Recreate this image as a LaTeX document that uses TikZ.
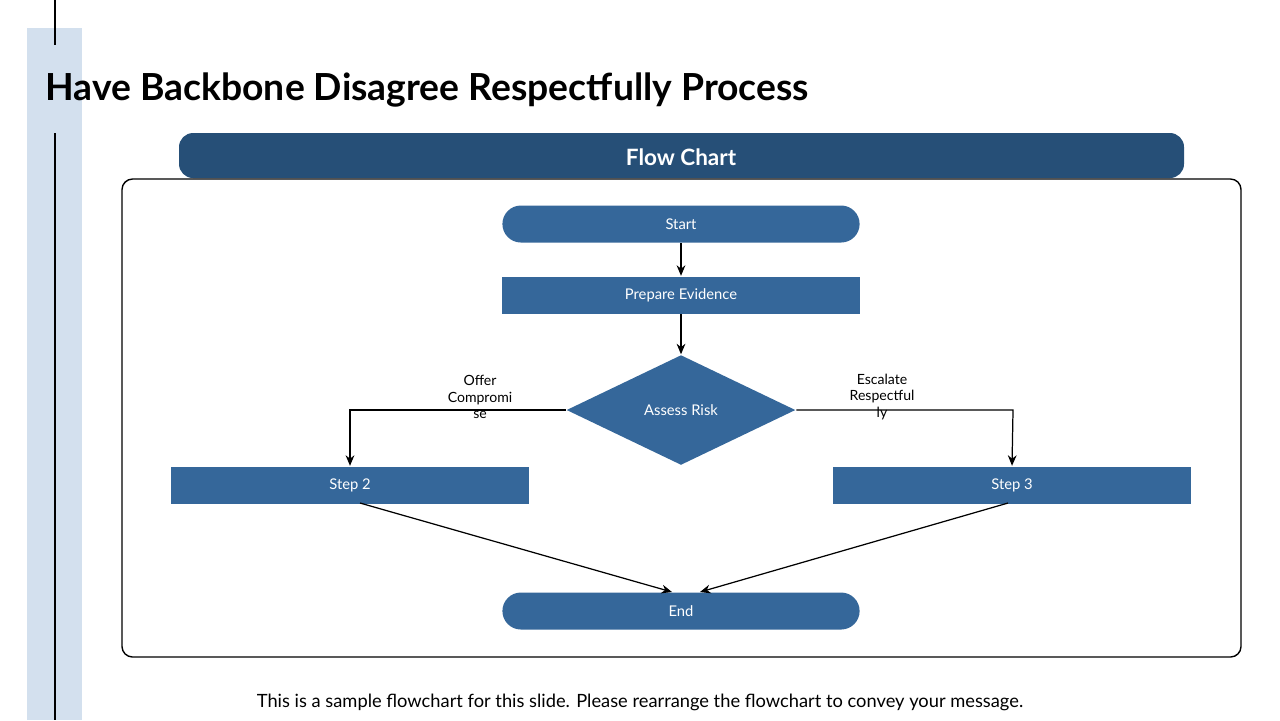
\documentclass[tikz,border=0pt]{standalone}
\usepackage{fontspec}
\setmainfont{Lato}
\usetikzlibrary{shapes.geometric,arrows.meta}
\definecolor{band}{HTML}{D3E0EE}
\definecolor{navy}{HTML}{264F77}
\definecolor{boxblue}{HTML}{35679A}
\tikzset{
  box/.style={fill=boxblue,text=white,minimum width=3.57cm,minimum height=0.37cm,inner sep=0pt,font=\fontsize{4.2}{5}\selectfont},
  pill/.style={box,rounded corners=0.185cm},
  flow/.style={-{Stealth[length=3pt,width=2.5pt]},line width=0.35pt},
  lbl/.style={align=center,font=\fontsize{4}{4.6}\selectfont}
}
\begin{document}
\begin{tikzpicture}[x=0.01cm,y=-0.01cm]
\useasboundingbox (0,0) rectangle (1280,720);
% side band and rule
\fill[band] (27,28) rectangle (82,720);
\draw[line width=0.6pt] (55,0) -- (55,45);
\draw[line width=0.6pt] (55,133) -- (55,720);
\node[anchor=west,font=\fontsize{10.6}{12}\selectfont\bfseries] (title) at (33,90) {Have Backbone Disagree Respectfully Process};
% header tab and frame
\fill[navy,rounded corners=4pt] (179,178) -- (179,133) -- (1184,133) -- (1184,178) -- cycle;
\node[text=white,font=\fontsize{6.4}{7}\selectfont\bfseries] (head) at (681,157) {Flow Chart};
\draw[line width=0.4pt,rounded corners=3pt] (122,179) rectangle (1241,657);
% nodes
\node[pill] (start) at (681,224) {Start};
\node[box] (prep) at (681,295) {Prepare Evidence};
\node[diamond,fill=boxblue,text=white,aspect=2.1,minimum width=2.29cm,minimum height=1.1cm,inner sep=0pt,font=\fontsize{4.2}{5}\selectfont] (risk) at (681,410) {Assess Risk};
\node[box] (step2) at (350,485) {Step 2};
\node[box] (step3) at (1012,485) {Step 3};
\node[pill] (end) at (681,611) {End};
\coordinate (lc) at (350,410);
\coordinate (rc) at (1013,410);
% connectors
\draw[flow] (start) -- (prep);
\draw[flow] (prep) -- (risk);
\draw[flow] (risk.west) -- (lc) -- (step2.north);
\draw[flow] (risk.east) -- (rc) -- (step3.north);
\draw[flow] (360,503) -- (672,592);
\draw[flow] (1008,503) -- (700,592);
\node[lbl] (offer) at (480,397) {Offer\\Compromi\\se};
\node[lbl] (esc) at (882,397) {Escalate\\Respectful\\ly};
\node[font=\fontsize{5.2}{6}\selectfont] (foot) at (640,702) {This is a sample flowchart for this slide. Please rearrange the flowchart to convey your message.};
\end{tikzpicture}
\end{document}
